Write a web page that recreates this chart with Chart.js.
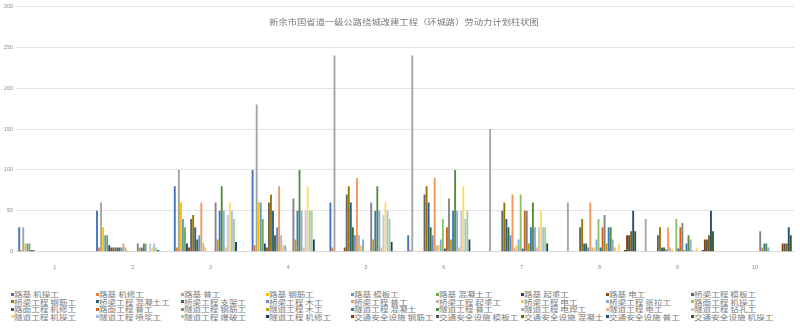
<!DOCTYPE html>
<html>
<head>
<meta charset="utf-8">
<script src="https://cdn.jsdelivr.net/npm/chart.js@4/dist/chart.umd.min.js"></script>
<style>
  html, body { margin: 0; padding: 0; background: #ffffff; }
  #wrap { position: relative; width: 800px; height: 332px; overflow: hidden; background: #fff; }
  #box { position: absolute; left: 0; top: 0; width: 800px; height: 272px; }
  #title { position: absolute; top: 17px; left: 404px; white-space: nowrap;
           font-family: "Noto Sans CJK SC", sans-serif; font-size: 10px; color: #7a7a7a;
           transform: translateX(-50%) scale(0.93, 0.8); transform-origin: center; line-height: 10px; }
  .lg { position: absolute; white-space: nowrap; font-family: "Noto Sans CJK SC", sans-serif;
        font-size: 10px; line-height: 8px; height: 8px; color: #7a7a7a; }
  .lg i { position: absolute; left: 0; top: 2.5px; width: 3px; height: 3px; }
  .lg span { position: absolute; left: 3.2px; top: 0; line-height: 8px;
             transform: scale(0.86, 0.63); transform-origin: left center; }
</style>
</head>
<body>
<div id="wrap">
  <div id="box"><canvas id="c"></canvas></div>
  <div id="title">新余市国省道一级公路绕城改建工程（环城路）劳动力计划柱状图</div>
  <div id="legend"></div>
</div>
<script>
const categories = ['1', '2', '3', '4', '5', '6', '7', '8', '9', '10'];

const seriesNames = [
  '路基 机操工', '路基 机修工', '路基 普工', '路基 钢筋工', '路基 模板工', '路基 混凝土工', '路基 起重工', '路基 电工', '桥梁工程 模板工',
  '桥梁工程 钢筋工', '桥梁工程 混凝土工', '桥梁工程 支架工', '桥梁工程 木工', '桥梁工程 普工', '桥梁工程 起重工', '桥梁工程 电工', '桥梁工程 张拉工', '路面工程 机操工',
  '路面工程 机修工', '路面工程 普工', '隧道工程 钢筋工', '隧道工程 木工', '隧道工程 混凝土', '隧道工程 普工', '隧道工程 电焊工', '隧道工程 电工', '隧道工程 钻孔工',
  '隧道工程 机操工', '隧道工程 喷浆工', '隧道工程 爆破工', '隧道工程 机修工', '交通安全设施 钢筋工', '交通安全设施 模板工', '交通安全设施 混凝土', '交通安全设施 普工', '交通安全设施 机操工'
];

// values per period, one entry per series (in the order of seriesNames)
const period1  = [30, 2, 30, 10, 10, 10, 2, 2, 0, 0, 0, 0, 0, 0, 0, 0, 0, 0, 0, 0, 0, 0, 0, 0, 0, 0, 0, 0, 0, 0, 0, 0, 0, 0, 0, 0];
const period2  = [50, 5, 60, 30, 20, 20, 8, 5, 5, 5, 5, 5, 5, 10, 5, 2, 0, 0, 0, 0, 10, 5, 5, 10, 10, 0, 10, 5, 10, 5, 2, 0, 0, 0, 0, 0];
const period3  = [80, 5, 100, 60, 40, 30, 10, 5, 40, 45, 30, 15, 20, 60, 10, 5, 0, 0, 0, 0, 60, 15, 50, 80, 50, 5, 45, 60, 50, 40, 12, 0, 0, 0, 0, 0];
const period4  = [100, 8, 180, 60, 60, 40, 10, 5, 60, 70, 50, 20, 30, 80, 20, 8, 8, 0, 0, 0, 65, 15, 50, 100, 50, 5, 50, 80, 50, 50, 15, 0, 0, 0, 0, 0];
const period5  = [60, 5, 240, 0, 0, 0, 0, 5, 70, 80, 60, 30, 20, 90, 20, 8, 15, 0, 0, 0, 60, 15, 50, 80, 50, 5, 45, 60, 50, 40, 12, 0, 0, 0, 0, 0];
const period6  = [20, 2, 240, 0, 0, 0, 0, 0, 70, 80, 60, 30, 20, 90, 8, 8, 15, 40, 4, 30, 65, 15, 50, 100, 50, 5, 50, 80, 40, 50, 15, 0, 0, 0, 0, 0];
const period7  = [0, 0, 150, 0, 0, 0, 0, 0, 50, 60, 40, 30, 20, 70, 5, 8, 15, 70, 4, 50, 50, 10, 30, 60, 30, 5, 30, 50, 30, 30, 10, 0, 0, 0, 0, 0];
const period8  = [0, 0, 60, 0, 0, 0, 0, 0, 30, 40, 10, 10, 5, 60, 5, 5, 15, 40, 5, 30, 45, 10, 30, 30, 15, 5, 0, 10, 0, 0, 2, 20, 20, 25, 50, 25];
const period9  = [0, 0, 40, 0, 0, 0, 0, 0, 20, 30, 5, 5, 3, 30, 5, 3, 0, 40, 4, 30, 35, 2, 10, 20, 15, 2, 0, 5, 0, 0, 2, 15, 15, 20, 50, 25];
const period10 = [0, 0, 0, 0, 0, 0, 0, 0, 0, 0, 0, 0, 0, 0, 0, 0, 0, 0, 0, 0, 25, 5, 10, 10, 5, 0, 0, 0, 0, 0, 0, 10, 10, 10, 30, 20];

const yTicks = [0, 50, 100, 150, 200, 250, 300];

const seriesColors = [
  '#4472C4', '#ED7D31', '#A5A5A5', '#FFC000', '#5B9BD5', '#70AD47',
  '#264478', '#9E480E', '#636363', '#997300', '#255E91', '#43682B',
  '#698ED0', '#F1975A', '#B7B7B7', '#FFCD33', '#7CAFDD', '#8CC168',
  '#335AA1', '#D26012', '#848484', '#CC9A00', '#327DC2', '#5A8A39',
  '#8FAADC', '#F4B183', '#C9C9C9', '#FFD966', '#9DC3E6', '#A9D18E',
  '#203864', '#843C0C', '#525252', '#806000', '#1F4E79', '#385723'
];

const periods = [period1, period2, period3, period4, period5, period6, period7, period8, period9, period10];

const datasets = seriesNames.map((name, s) => ({
  label: name,
  data: periods.map(p => p[s]),
  backgroundColor: seriesColors[s],
  borderWidth: 0,
  categoryPercentage: 0.944,
  barPercentage: 0.92
}));

const chart = new Chart(document.getElementById('c'), {
  type: 'bar',
  data: { labels: categories, datasets },
  options: {
    responsive: true,
    maintainAspectRatio: false,
    animation: false,
    layout: { padding: { top: 3.7, right: 6, left: 0, bottom: 0 } },
    plugins: { legend: { display: false }, title: { display: false }, tooltip: { enabled: false } },
    scales: {
      x: {
        grid: { display: false },
        border: { display: true, color: '#d9d9d9', width: 1 },
        ticks: { color: '#8a8a8a', font: { size: 5.5, family: 'Liberation Sans' }, padding: 4 },
        afterFit: (axis) => { axis.height = 20.3; }
      },
      y: {
        min: 0, max: 300,
        afterBuildTicks: (axis) => { axis.ticks = yTicks.map(v => ({ value: v })); },
        grid: { color: '#e3e3e3', lineWidth: 1, drawTicks: false },
        border: { display: false },
        ticks: { color: '#8a8a8a', font: { size: 5.5, family: 'Liberation Sans' }, padding: 3 },
        afterFit: (axis) => { axis.width = 16; }
      }
    }
  }
});

// HTML legend built from the chart's datasets (9 columns x 4 rows)
const lg = document.getElementById('legend');
chart.data.datasets.forEach((ds, k) => {
  const col = k % 9, row = Math.floor(k / 9);
  const d = document.createElement('div');
  d.className = 'lg';
  d.style.left = (10.5 + 85 * col) + 'px';
  d.style.top = (290 + 7.55 * row) + 'px';
  const m = document.createElement('i');
  m.style.background = ds.backgroundColor;
  const t = document.createElement('span');
  t.textContent = ds.label;
  d.appendChild(m); d.appendChild(t);
  lg.appendChild(d);
});
</script>
</body>
</html>
